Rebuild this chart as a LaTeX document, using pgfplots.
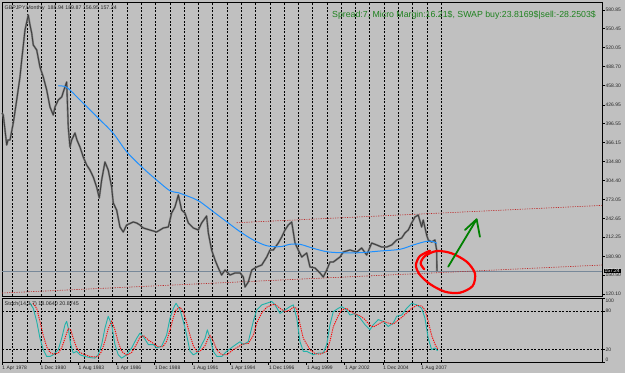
\documentclass[border=0pt]{standalone}
\usepackage{fontspec}
\setmainfont{Liberation Sans}
\usepackage{pgfplots}
\pgfplotsset{compat=1.18}
\definecolor{bg}{RGB}{192,192,192}
\definecolor{pricedark}{RGB}{60,60,60}
\definecolor{priceedge}{RGB}{125,125,125}
\definecolor{mablue}{RGB}{30,144,255}
\definecolor{bidc}{RGB}{119,136,153}
\definecolor{chred}{RGB}{190,40,40}
\definecolor{teal}{RGB}{32,178,170}
\definecolor{sigred}{RGB}{255,0,0}
\definecolor{txtgreen}{RGB}{30,130,30}
\definecolor{arrgreen}{RGB}{0,128,0}
\begin{document}
\begin{tikzpicture}
\fill[bg] (0,0) rectangle (625bp,373bp);
\path[use as bounding box] (0,0) rectangle (625bp,373bp);
% ---------------- main price panel ----------------
\begin{axis}[
  at={(2bp,77bp)}, anchor=south west, scale only axis,
  width=600bp, height=294bp,
  xmin=1978.25, xmax=2020.27, ymin=116.86, ymax=593.72,
  axis line style={black, line width=0.6bp},
  clip=false,
  tick align=outside,
  xtick={1979,1980,...,2009}, xticklabels={}, xmajorgrids,
  xtick style={draw=none},
  grid style={black, line width=0.45bp, dash pattern=on 2bp off 1.5bp},
  ytick pos=right, yticklabel pos=right,
  ytick={580.85,550.45,520.05,488.70,458.30,426.95,396.55,366.15,334.80,304.40,273.05,242.65,212.25,180.90,150.50,120.10},
  yticklabels={580.85,550.45,520.05,488.70,458.30,426.95,396.55,366.15,334.80,304.40,273.05,242.65,212.25,180.90,150.50,120.10},
  ytick style={black, line width=0.5bp},
  major tick length=2.5bp,
  yticklabel style={font=\fontsize{5}{6}\selectfont, anchor=west, inner xsep=1bp, text=black!85},
  /pgf/number format/assume math mode=true,
]
% bid line
\addplot[bidc, line width=0.7bp] coordinates {(1978.25,157.24) (2020.27,157.24)};
% channel lines
\addplot[chred, line width=0.6bp, dash pattern=on 1.2bp off 1.2bp] coordinates {(1994.69,235.7) (2020.27,263.8)};
\addplot[chred, line width=0.6bp, dash pattern=on 1.2bp off 1.2bp] coordinates {(1978.25,121.7) (2020.27,167.1)};
% price (monthly path)
\addplot[priceedge, line width=1.9bp, line join=round] coordinates {
(1978.25,413.7) (1978.34,410.4) (1978.58,361.8) (1978.67,369.9) (1978.81,369.9) (1979.04,397.5) (1979.28,434.8) (1979.51,472.1) (1979.63,499.6) (1979.86,548.3) (1980.09,572.6) (1980.21,556.4) (1980.33,543.4) (1980.44,524.0) (1980.68,515.9) (1980.91,488.3) (1981.14,472.1) (1981.38,451.0) (1981.61,423.4) (1981.84,410.4) (1981.96,423.4) (1982.19,434.8) (1982.43,439.6) (1982.59,451.0) (1982.78,464.0) (1982.89,391.0) (1983.01,358.5) (1983.13,369.9) (1983.36,381.2) (1983.50,369.9) (1983.71,358.5) (1983.94,342.3) (1984.18,329.3) (1984.41,321.2) (1984.64,309.9) (1984.88,293.6) (1985.06,275.8) (1985.23,305.0) (1985.46,334.2) (1985.69,321.2) (1985.93,293.6) (1986.04,267.7) (1986.28,256.3) (1986.51,228.8) (1986.74,220.7) (1986.98,232.0) (1987.44,236.9) (1987.68,235.3) (1987.91,232.0) (1988.14,227.2) (1988.61,223.9) (1989.08,220.7) (1989.55,227.2) (1989.90,228.8) (1990.13,251.5) (1990.36,261.2) (1990.60,280.7) (1990.83,256.3) (1991.06,251.5) (1991.30,235.3) (1991.65,227.2) (1992.00,223.9) (1992.23,235.3) (1992.58,246.6) (1992.70,219.0) (1992.93,191.5) (1993.17,175.2) (1993.40,162.3) (1993.63,150.9) (1993.87,159.0) (1994.22,150.9) (1994.57,154.2) (1994.92,154.2) (1995.15,147.7) (1995.27,131.5) (1995.50,139.6) (1995.74,159.0) (1996.09,163.9) (1996.44,167.1) (1996.79,180.1) (1997.02,191.5) (1997.25,191.5) (1997.60,202.8) (1997.84,212.6) (1998.07,223.9) (1998.30,232.0) (1998.54,236.9) (1998.77,202.8) (1999.00,191.5) (1999.24,180.1) (1999.59,186.6) (1999.82,163.9) (2000.17,162.3) (2000.52,154.2) (2000.75,147.7) (2000.99,159.0) (2001.22,172.0) (2001.45,172.0) (2001.92,180.1) (2002.15,188.2) (2002.62,191.5) (2003.09,188.2) (2003.44,194.7) (2003.79,183.4) (2004.14,202.8) (2004.49,199.6) (2004.84,196.3) (2005.19,196.3) (2005.54,199.6) (2005.89,207.7) (2006.24,210.9) (2006.47,219.0) (2006.70,223.9) (2006.94,235.3) (2007.17,245.0) (2007.40,248.2) (2007.64,228.8) (2007.75,240.1) (2007.99,215.8) (2008.10,207.7) (2008.34,204.4) (2008.57,207.7) (2008.69,191.5) (2008.71,157.2)};
\addplot[pricedark, line width=0.8bp, line join=round] coordinates {
(1978.25,413.7) (1978.34,410.4) (1978.58,361.8) (1978.67,369.9) (1978.81,369.9) (1979.04,397.5) (1979.28,434.8) (1979.51,472.1) (1979.63,499.6) (1979.86,548.3) (1980.09,572.6) (1980.21,556.4) (1980.33,543.4) (1980.44,524.0) (1980.68,515.9) (1980.91,488.3) (1981.14,472.1) (1981.38,451.0) (1981.61,423.4) (1981.84,410.4) (1981.96,423.4) (1982.19,434.8) (1982.43,439.6) (1982.59,451.0) (1982.78,464.0) (1982.89,391.0) (1983.01,358.5) (1983.13,369.9) (1983.36,381.2) (1983.50,369.9) (1983.71,358.5) (1983.94,342.3) (1984.18,329.3) (1984.41,321.2) (1984.64,309.9) (1984.88,293.6) (1985.06,275.8) (1985.23,305.0) (1985.46,334.2) (1985.69,321.2) (1985.93,293.6) (1986.04,267.7) (1986.28,256.3) (1986.51,228.8) (1986.74,220.7) (1986.98,232.0) (1987.44,236.9) (1987.68,235.3) (1987.91,232.0) (1988.14,227.2) (1988.61,223.9) (1989.08,220.7) (1989.55,227.2) (1989.90,228.8) (1990.13,251.5) (1990.36,261.2) (1990.60,280.7) (1990.83,256.3) (1991.06,251.5) (1991.30,235.3) (1991.65,227.2) (1992.00,223.9) (1992.23,235.3) (1992.58,246.6) (1992.70,219.0) (1992.93,191.5) (1993.17,175.2) (1993.40,162.3) (1993.63,150.9) (1993.87,159.0) (1994.22,150.9) (1994.57,154.2) (1994.92,154.2) (1995.15,147.7) (1995.27,131.5) (1995.50,139.6) (1995.74,159.0) (1996.09,163.9) (1996.44,167.1) (1996.79,180.1) (1997.02,191.5) (1997.25,191.5) (1997.60,202.8) (1997.84,212.6) (1998.07,223.9) (1998.30,232.0) (1998.54,236.9) (1998.77,202.8) (1999.00,191.5) (1999.24,180.1) (1999.59,186.6) (1999.82,163.9) (2000.17,162.3) (2000.52,154.2) (2000.75,147.7) (2000.99,159.0) (2001.22,172.0) (2001.45,172.0) (2001.92,180.1) (2002.15,188.2) (2002.62,191.5) (2003.09,188.2) (2003.44,194.7) (2003.79,183.4) (2004.14,202.8) (2004.49,199.6) (2004.84,196.3) (2005.19,196.3) (2005.54,199.6) (2005.89,207.7) (2006.24,210.9) (2006.47,219.0) (2006.70,223.9) (2006.94,235.3) (2007.17,245.0) (2007.40,248.2) (2007.64,228.8) (2007.75,240.1) (2007.99,215.8) (2008.10,207.7) (2008.34,204.4) (2008.57,207.7) (2008.69,191.5) (2008.71,157.2)};
% moving average
\addplot[mablue, line width=1bp, smooth] coordinates {
(1982.19,457.5) (1982.78,455.4) (1983.71,434.8) (1985.00,405.1) (1986.04,380.8) (1986.98,350.9) (1988.14,324.0) (1989.08,305.0) (1990.01,287.5) (1990.60,284.4) (1991.65,275.3) (1992.12,269.8) (1993.05,253.6) (1993.98,237.4) (1994.92,221.2) (1995.85,207.7) (1996.79,198.4) (1997.72,196.8) (1998.42,200.7) (1999.12,200.7) (2000.05,194.2) (2000.99,188.7) (2001.92,187.1) (2003.32,187.1) (2004.72,189.8) (2006.12,192.6) (2007.05,199.6) (2007.99,205.6) (2008.45,204.9) (2008.71,202.3)};
% hand-drawn red loop
\addplot[sigred, line width=2.2bp, smooth, line cap=round] coordinates {
(2007.82,160.2) (2007.57,169.9) (2007.87,181.7) (2008.69,189.8) (2009.74,186.1) (2010.79,172.5) (2011.37,153.7) (2011.21,133.1) (2010.32,122.2) (2009.27,123.8) (2008.22,136.3) (2007.47,152.5) (2007.24,167.1) (2007.52,181.7) (2008.22,190.3)};
% hand-drawn green arrow
\addplot[arrgreen, line width=1.8bp, line cap=round] coordinates {(2009.50,164.4) (2011.49,241.3)};
\addplot[arrgreen, line width=1.8bp, line cap=round, line join=round] coordinates {(2010.67,223.9) (2011.49,241.3) (2011.72,213.0)};
\coordinate (bid) at (axis cs:2020.27,157.24);
\node[anchor=north west, font=\fontsize{5.3}{6}\selectfont, inner sep=0pt, text=black!85] at ([xshift=2.5bp,yshift=-3bp]rel axis cs:0,1) {GBPJPY,Monthly\ \ 188.94 189.87 156.95 157.24};
\node[anchor=west, font=\fontsize{8.8}{10}\selectfont, inner sep=0pt, text=txtgreen] at ([yshift=-13bp]axis cs:2001.36,593.72) {Spread:7, Micro Margin:16.21\$, SWAP buy:23.8169\$|sell:-28.2503\$};
\end{axis}
\node[fill=black, text=white, anchor=west, inner xsep=0.8bp, inner ysep=0.6bp, font=\fontsize{5}{6}\selectfont] at ([xshift=1.5bp]bid) {157.24};
% ---------------- stochastic panel ----------------
\begin{axis}[
  at={(2bp,10.7bp)}, anchor=south west, scale only axis,
  width=600bp, height=63.8bp,
  xmin=1978.25, xmax=2020.27, ymin=0, ymax=100,
  axis line style={black, line width=0.6bp},
  clip=false,
  tick align=outside,
  major tick length=2.5bp,
  tick style={black, line width=0.5bp},
  xtick pos=left, ytick pos=right, yticklabel pos=right,
  xtick={1978.25,1980.917,1983.583,1986.25,1988.917,1991.583,1994.25,1996.917,1999.583,2002.25,2004.917,2007.583},
  xticklabels={1 Apr 1978,1 Dec 1980,1 Aug 1983,1 Apr 1986,1 Dec 1988,1 Aug 1991,1 Apr 1994,1 Dec 1996,1 Aug 1999,1 Apr 2002,1 Dec 2004,1 Aug 2007},
  xticklabel style={font=\fontsize{5}{6}\selectfont, anchor=north west, inner xsep=0.3bp, inner ysep=1bp, text=black!85},
  extra x ticks={1979,1980,...,2009}, extra x tick labels={},
  extra x tick style={grid=major, major tick length=0pt},
  ytick={20,80}, yticklabels={20,80}, ymajorgrids,
  extra y ticks={0,100}, extra y tick labels={}, extra y tick style={grid=none},
  grid style={black, line width=0.45bp, dash pattern=on 2bp off 1.5bp},
  yticklabel style={font=\fontsize{5}{6}\selectfont, anchor=west, inner xsep=1bp, text=black!85},
]
\addplot[teal, line width=0.9bp, line join=round] coordinates {
(1980.21,92.6) (1980.44,84.6) (1980.68,64.2) (1980.91,37.6) (1981.14,19.8) (1981.38,9.2) (1981.61,9.2) (1981.84,11.8) (1982.19,19.8) (1982.43,37.6) (1982.66,58.9) (1982.78,64.2) (1982.89,53.6) (1983.06,27.8) (1983.24,14.5) (1983.48,17.2) (1983.71,11.8) (1984.06,9.2) (1984.41,7.4) (1984.76,6.5) (1984.99,11.8) (1985.23,27.8) (1985.46,53.6) (1985.69,72.2) (1985.93,58.9) (1986.16,27.8) (1986.39,11.8) (1986.63,6.5) (1986.98,11.8) (1987.33,22.5) (1987.68,37.6) (1987.91,45.6) (1988.15,40.2) (1988.50,27.8) (1988.85,27.8) (1989.08,22.5) (1989.43,25.1) (1989.78,42.9) (1990.02,69.5) (1990.25,84.6) (1990.44,92.6) (1990.72,82.0) (1990.95,64.2) (1991.18,42.9) (1991.42,17.2) (1991.65,11.8) (1991.88,14.5) (1992.12,22.5) (1992.47,37.6) (1992.63,50.9) (1992.82,37.6) (1993.05,17.2) (1993.29,9.2) (1993.64,9.2) (1993.99,17.2) (1994.45,25.1) (1994.92,32.3) (1995.15,27.8) (1995.50,32.3) (1995.85,64.2) (1996.09,82.0) (1996.44,90.0) (1996.79,92.6) (1997.14,95.3) (1997.37,90.0) (1997.72,76.6) (1998.07,82.0) (1998.42,87.3) (1998.65,90.0) (1998.89,69.5) (1999.12,32.3) (1999.35,17.2) (1999.59,17.2) (1999.82,14.5) (2000.05,11.8) (2000.40,14.5) (2000.75,14.5) (2000.99,27.8) (2001.22,58.9) (2001.45,79.3) (2001.80,84.6) (2002.04,87.3) (2002.39,82.0) (2002.62,74.0) (2002.97,76.6) (2003.32,69.5) (2003.67,58.9) (2004.02,50.9) (2004.25,58.9) (2004.60,66.9) (2004.95,64.2) (2005.30,56.2) (2005.65,61.6) (2005.89,72.2) (2006.24,74.0) (2006.59,84.6) (2006.94,92.6) (2007.29,90.0) (2007.64,84.6) (2007.87,69.5) (2008.10,37.6) (2008.34,19.8) (2008.57,22.5) (2008.75,18.1)};
\addplot[sigred, line width=0.9bp, dash pattern=on 1.2bp off 1bp] coordinates {
(1980.42,92.6) (1980.68,84.6) (1980.91,64.2) (1981.14,42.0) (1981.38,24.3) (1981.61,15.4) (1981.84,12.7) (1982.19,14.5) (1982.43,22.5) (1982.66,37.6) (1982.89,52.7) (1983.06,50.9) (1983.24,37.6) (1983.48,22.5) (1983.71,15.4) (1984.06,11.8) (1984.41,9.2) (1984.76,8.3) (1984.99,9.2) (1985.23,17.2) (1985.46,33.1) (1985.69,52.7) (1985.93,64.2) (1986.16,50.9) (1986.39,31.4) (1986.63,17.2) (1986.98,11.0) (1987.33,15.4) (1987.68,28.7) (1987.91,39.4) (1988.15,42.0) (1988.50,34.9) (1988.85,29.6) (1989.17,24.3) (1989.52,24.3) (1989.78,33.1) (1990.02,50.9) (1990.25,70.4) (1990.44,82.0) (1990.72,86.4) (1990.95,79.3) (1991.18,62.4) (1991.42,42.0) (1991.65,26.0) (1991.88,17.2) (1992.12,17.2) (1992.47,26.0) (1992.68,37.6) (1992.82,42.0) (1993.05,33.1) (1993.29,19.8) (1993.64,11.8) (1993.99,11.8) (1994.45,19.8) (1994.92,26.0) (1995.15,28.7) (1995.50,29.6) (1995.85,42.0) (1996.09,61.6) (1996.44,77.5) (1996.79,86.4) (1997.14,90.0) (1997.37,90.9) (1997.72,84.6) (1998.07,79.3) (1998.42,82.0) (1998.65,86.4) (1998.89,84.6) (1999.12,59.8) (1999.35,37.6) (1999.82,19.8) (2000.17,13.6) (2000.52,12.7) (2000.99,17.2) (2001.22,33.1) (2001.45,55.3) (2001.80,73.1) (2002.04,82.0) (2002.39,84.6) (2002.62,80.2) (2002.97,75.8) (2003.32,73.1) (2003.67,66.9) (2004.02,58.0) (2004.25,55.3) (2004.60,59.8) (2004.95,64.2) (2005.30,61.6) (2005.65,59.8) (2005.89,64.2) (2006.24,70.4) (2006.59,77.5) (2006.94,84.6) (2007.29,89.1) (2007.64,88.2) (2007.87,82.0) (2008.10,64.2) (2008.34,42.0) (2008.57,28.7) (2008.75,20.9)};
\node[anchor=north west, font=\fontsize{5.4}{6}\selectfont, inner sep=0pt, text=black!85] at ([xshift=2.5bp,yshift=-2.5bp]rel axis cs:0,1) {Stoch(14,3,7) 18.0640 20.8745};
\node[anchor=north west, font=\fontsize{5}{6}\selectfont, inner xsep=1bp, inner ysep=0.5bp, text=black!85] at ([xshift=2.5bp]axis cs:2020.27,100) {100};
\node[anchor=south west, font=\fontsize{5}{6}\selectfont, inner xsep=1bp, inner ysep=0.5bp, text=black!85] at ([xshift=2.5bp]axis cs:2020.27,0) {0};
\end{axis}
\end{tikzpicture}
\end{document}
